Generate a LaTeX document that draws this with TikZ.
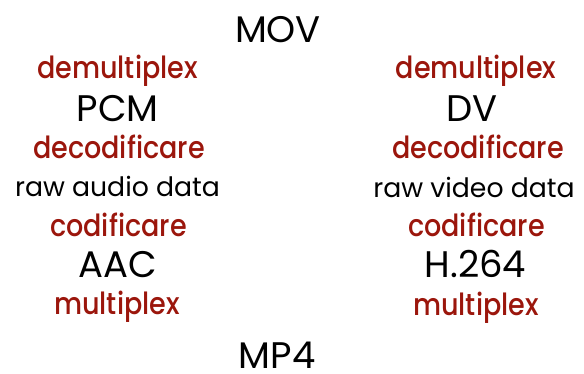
\documentclass[tikz,border=0pt]{standalone}
\usepackage{fontspec}
\setmainfont{Poppins}
\newfontfamily\redfont{Poppins Medium}
\definecolor{rosso}{RGB}{155,22,12}
\newcommand{\redtxt}[1]{\scalebox{1.02}[1.15]{#1}}
\tikzset{
  caps/.style={anchor=base, inner sep=0pt, text=black, font=\fontsize{37}{40}\selectfont},
  blk/.style={anchor=base, inner sep=0pt, text=black, font=\fontsize{26.7}{30}\selectfont},
  red/.style={anchor=base, inner sep=0pt, text=rosso, font=\fontsize{26.5}{30}\redfont},
}
\begin{document}
\begin{tikzpicture}[x=1pt,y=-1pt]
\useasboundingbox (0,0) rectangle (584,374);
\node[caps] (mov) at (278,43) {MOV};
\node[red] (ldem) at (117.5,79) {\redtxt{demultiplex}};
\node[caps] (pcm) at (117.5,122) {PCM};
\node[red] (ldec) at (119,159) {\redtxt{decodificare}};
\node[blk] (raud) at (117.5,197) {raw audio data};
\node[red] (lcod) at (118.5,237) {\redtxt{codificare}};
\node[caps] (aac) at (117.5,278) {AAC};
\node[red] (lmux) at (117,315) {\redtxt{multiplex}};
\node[red] (rdem) at (476,79) {\redtxt{demultiplex}};
\node[caps] (dv) at (472,122) {DV};
\node[red] (rdec) at (478,159) {\redtxt{decodificare}};
\node[blk] (rvid) at (474,198) {raw video data};
\node[red] (rcod) at (476.5,237) {\redtxt{codificare}};
\node[caps] (h264) at (475.5,278) {H.264};
\node[red] (rmux) at (476,316) {\redtxt{multiplex}};
\node[caps] (mp4) at (277,368) {MP4};
\end{tikzpicture}
\end{document}
